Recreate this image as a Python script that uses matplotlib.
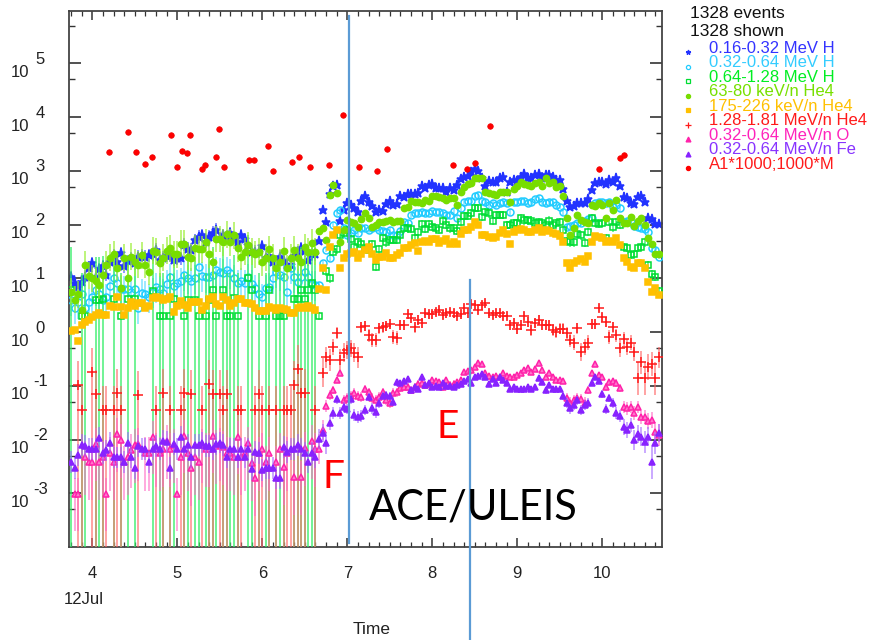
import numpy as np
import matplotlib
matplotlib.use("Agg")
import matplotlib.pyplot as plt
from matplotlib.lines import Line2D
from matplotlib.ticker import FixedLocator, NullFormatter, MultipleLocator

nan = float("nan")

# ---------------------------------------------------------------- data
# hourly averages, hours counted from 2012-07-04 00:00 UT
HOURS = np.arange(-6, 161)
ONSET_HOUR = 64          # particle event onset (pre-event points are noisy)

# log10 of intensities
H_016_032_LOG = [
    1.02, 0.91, 0.84, 0.93, 1.03, 1.19, 1.28, 1.03, 1.17, 1.22,
    1.06, 1.31, 1.42, 1.31, 1.47, 1.22, 1.32, 1.36, 1.28, 1.40,
    1.42, 1.40, 1.43, 1.45, 1.53, 1.34, 1.38, 1.42, 1.43, 1.34,
    1.37, 1.37, 1.62, 1.55, 1.53, 1.71, 1.77, 1.80, 1.68, 1.77,
    1.85, 1.90, 1.75, 1.80, 1.77, 1.84, 1.75, 1.67, 1.80, 1.73,
    1.62, 1.49, 1.49, 1.49, 1.60, 1.38, 1.41, 1.30, 1.30, 1.40,
    1.32, 1.25, 1.25, 1.41, 1.45, 1.56, 1.51, 1.34, 1.45, 1.45,
    1.69, 2.27, 2.05, 2.57, 2.72, 2.73, 2.07, 2.27, 2.40, 2.36,
    2.31, 2.23, 2.44, 2.53, 2.42, 2.34, 2.23, 2.27, 2.25, 2.38,
    2.44, 2.36, 2.38, 2.53, 2.51, 2.57, 2.57, 2.57, 2.59, 2.72,
    2.68, 2.73, 2.75, 2.68, 2.68, 2.68, 2.60, 2.68, 2.64, 2.73,
    2.85, 2.88, 2.90, 2.98, 3.03, 3.00, 2.87, 2.72, 2.81, 2.79,
    2.79, 2.87, 2.88, 2.60, 2.80, 2.83, 2.81, 2.88, 2.94, 2.87,
    2.87, 2.92, 2.94, 2.87, 2.92, 2.92, 2.88, 2.83, 2.83, 2.66,
    2.44, 2.33, 2.34, 2.40, 2.40, 2.40, 2.47, 2.64, 2.77, 2.79,
    2.79, 2.75, 2.83, 2.79, 2.87, 2.72, 2.51, 2.49, 2.40, 2.38,
    2.51, 2.53, 2.42, 2.12, 2.10, 2.01, 2.01]

H_032_064_LOG = [
    0.60, 0.45, 0.55, 0.70, 0.45, 0.55, 0.65, 0.78, 0.70, 0.60,
    0.65, 0.85, 1.00, 0.91, 0.80, 0.80, 0.80, 0.75, 0.80, 0.45,
    0.73, 0.70, 0.65, 0.75, 0.84, 0.80, 0.73, 0.90, 1.02, 0.85,
    0.91, 0.95, 1.06, 1.00, 0.95, 1.00, 1.21, 1.05, 1.02, 1.02,
    1.06, 1.15, 1.12, 1.10, 1.15, 1.10, 1.00, 0.91, 0.95, 0.91,
    1.02, 0.90, 0.82, 0.71, 0.65, 0.82, 0.84, 1.00, 1.12, 1.06,
    1.02, 0.74, 1.19, 1.02, 0.93, 1.02, 1.12, 1.02, 0.89, 0.88,
    0.87, 1.28, 1.53, 1.38, 2.00, 2.21, 2.27, 1.93, 1.80, 1.84,
    1.90, 1.84, 1.93, 1.93, 1.90, 1.93, 1.95, 1.90, 1.88, 1.86,
    1.90, 1.80, 1.80, 1.88, 2.05, 2.03, 2.18, 2.21, 2.21, 2.23,
    2.21, 2.21, 2.25, 2.23, 2.23, 2.21, 2.18, 2.18, 2.25, 2.12,
    2.31, 2.42, 2.44, 2.44, 2.53, 2.55, 2.44, 2.42, 2.36, 2.40,
    2.36, 2.40, 2.42, 2.40, 2.23, 2.42, 2.42, 2.44, 2.44, 2.40,
    2.42, 2.47, 2.49, 2.42, 2.40, 2.42, 2.42, 2.36, 2.33, 2.23,
    1.95, 1.97, 1.99, 2.03, 2.03, 2.07, 2.10, 2.12, 2.40, 2.42,
    2.42, 2.40, 2.42, 2.33, 2.36, 2.31, 2.05, 2.07, 2.05, 1.97,
    1.95, 1.93, 1.92, 1.86, 1.56, 1.53, 1.40]

H_064_128_LOG = [
    0.78, nan, nan, 0.30, 0.30, nan, nan, 0.60, 0.60, 0.61,
    nan, nan, 0.61, nan, 0.30, nan, 0.61, nan, 0.61, nan,
    nan, nan, nan, 0.76, nan, 0.30, 0.30, nan, 0.30, 0.61,
    nan, nan, 0.30, 0.60, nan, 0.60, 0.30, nan, 0.30, 0.60,
    0.78, 0.30, nan, 0.78, 0.30, 0.30, 0.63, 0.30, nan, nan,
    1.00, 0.78, nan, 0.30, nan, 0.30, 0.78, nan, 0.30, 0.30,
    0.30, nan, nan, 0.61, 0.61, 0.78, 0.61, 0.78, 0.91, 0.78,
    0.30, nan, 1.13, 1.00, 1.49, 1.54, 1.80, 1.85, 1.90, 1.73,
    1.58, 1.67, 1.64, 1.56, 1.53, 1.64, 1.21, 1.54, 1.75, 1.67,
    1.71, 1.71, 1.71, 1.80, 1.93, 1.93, 1.92, 1.75, 1.86, 2.01,
    1.92, 2.01, 1.96, 1.93, 1.90, 2.07, 1.99, 1.93, 1.93, 1.88,
    2.05, 2.16, 2.16, 2.21, 2.31, 2.31, 2.14, 2.23, 2.21, 2.07,
    2.18, 2.18, 2.18, 1.99, 2.00, 2.03, 2.03, 2.12, 2.08, 2.08,
    2.07, 2.03, 2.05, 2.03, 1.99, 2.07, 1.99, 2.03, 2.05, 1.90,
    1.69, 1.67, 1.67, 1.82, 1.80, 1.66, 1.86, 2.12, 2.03, 2.01,
    2.03, 1.75, 2.05, 1.95, 2.05, 1.99, 1.58, 1.56, 1.43, 1.45,
    1.56, 1.58, 1.67, 1.25, 1.08, 1.02, 0.76]

HE4_063_080_LOG = [
    0.75, 0.60, 0.70, 0.41, 1.25, 1.05, 1.00, 0.95, 0.87, 1.06,
    1.25, 1.38, 1.45, 1.19, 0.82, 1.38, 1.00, 1.40, 1.30, 1.25,
    1.43, 1.25, 1.12, 1.51, 1.49, 1.28, 1.38, 1.51, 1.56, 1.45,
    1.45, 1.64, 1.64, 1.40, 1.38, 1.56, 1.54, 1.54, 1.67, 1.45,
    1.30, 1.73, 1.73, 1.67, 1.82, 1.67, 1.80, 1.56, 1.40, 1.49,
    1.62, 1.49, 1.45, 1.49, 1.30, 1.38, 1.54, 1.38, 1.19, 1.30,
    1.51, 1.19, 1.38, 1.53, 1.38, 1.30, 1.58, 1.49, 1.66, 1.49,
    1.88, 1.93, 1.71, 2.55, 2.73, 2.59, 1.67, 1.90, 2.08, 2.05,
    2.03, 1.95, 2.10, 2.21, 2.12, 1.95, 1.99, 2.05, 2.05, 2.07,
    2.08, 2.05, 2.07, 2.07, 2.31, 2.33, 2.44, 2.42, 2.42, 2.40,
    2.46, 2.44, 2.53, 2.53, 2.51, 2.49, 2.46, 2.49, 2.49, 2.36,
    2.60, 2.70, 2.75, 2.77, 2.87, 2.87, 2.87, 2.60, 2.59, 2.57,
    2.55, 2.60, 2.60, 2.60, 2.42, 2.66, 2.72, 2.79, 2.75, 2.73,
    2.72, 2.77, 2.79, 2.72, 2.87, 2.77, 2.79, 2.70, 2.72, 2.53,
    2.12, 1.80, 1.93, 2.18, 2.08, 2.05, 2.03, 2.36, 2.34, 2.40,
    2.36, 2.12, 2.40, 2.27, 2.46, 2.12, 2.03, 2.03, 2.14, 1.97,
    2.07, 2.12, 1.99, 1.75, 1.64, 1.45, 1.45]

HE4_175_226_LOG = [
    0.02, 0.04, -0.17, 0.13, 0.19, 0.22, 0.28, 0.32, 0.35, 0.32,
    0.32, 0.48, 0.47, 0.65, 0.47, 0.32, 0.45, 0.56, 0.48, 0.54,
    0.54, 0.45, 0.48, 0.63, 0.65, 0.63, 0.60, 0.61, 0.65, 0.37,
    0.48, 0.58, 0.50, 0.45, 0.56, 0.56, 0.56, 0.41, 0.48, 0.61,
    0.65, 0.52, 0.48, 0.65, 0.60, 0.48, 0.54, 0.61, 0.61, 0.54,
    0.54, 0.52, 0.45, 0.39, 0.39, 0.39, 0.47, 0.45, 0.41, 0.45,
    0.43, 0.41, 0.35, 0.35, 0.45, 0.47, 0.45, 0.48, 0.45, 0.41,
    0.80, 1.19, 0.78, 1.58, 1.80, 1.90, 1.19, 1.38, 1.45, 1.47,
    1.49, 1.38, 1.45, 1.53, 1.58, 1.45, 1.34, 1.40, 1.40, 1.47,
    1.38, 1.38, 1.43, 1.47, 1.56, 1.56, 1.62, 1.66, 1.51, 1.67,
    1.69, 1.67, 1.73, 1.73, 1.66, 1.69, 1.73, 1.64, 1.67, 1.64,
    1.82, 1.90, 1.90, 1.95, 2.05, 1.99, 1.80, 1.80, 1.77, 1.75,
    1.77, 1.84, 1.90, 1.82, 1.64, 1.86, 1.90, 1.92, 1.90, 1.86,
    1.86, 1.90, 1.93, 1.86, 1.90, 1.88, 1.84, 1.82, 1.79, 1.67,
    1.28, 1.19, 1.28, 1.32, 1.36, 1.30, 1.41, 1.67, 1.79, 1.77,
    1.75, 1.67, 1.69, 1.67, 1.75, 1.62, 1.38, 1.30, 1.21, 1.19,
    1.28, 1.28, 1.19, 0.93, 0.74, 0.82, 0.69]

HE4_128_181_LOG = [
    nan, nan, -0.99, -1.45, nan, nan, -0.74, -1.15, nan, -1.45,
    -1.45, nan, -1.45, -1.13, -1.45, nan, nan, nan, nan, -1.17,
    nan, nan, nan, nan, -1.45, nan, -1.13, nan, -1.45, nan,
    nan, -1.45, -1.13, nan, -1.15, nan, nan, -1.45, nan, -0.97,
    -1.15, nan, -1.15, -1.45, -1.15, nan, nan, -1.45, -1.45, nan,
    nan, nan, -1.45, -1.15, -1.45, nan, -1.45, nan, -1.45, nan,
    -1.45, -1.45, -1.45, -0.99, -0.69, -1.13, -1.13, nan, nan, -1.45,
    nan, -0.76, -0.47, -0.52, -0.28, -0.02, -0.52, -0.39, -0.33, -0.30,
    -0.39, -0.47, 0.09, 0.11, -0.06, -0.15, -0.15, 0.07, 0.09, 0.11,
    0.15, -0.09, -0.11, 0.13, 0.13, 0.33, 0.26, 0.09, 0.22, 0.17,
    0.35, 0.33, 0.33, 0.37, 0.41, 0.32, 0.35, 0.37, 0.35, 0.30,
    0.33, 0.45, 0.35, 0.52, 0.50, 0.41, 0.50, 0.54, 0.35, 0.32,
    0.35, 0.35, 0.30, 0.30, 0.13, 0.17, 0.06, 0.13, 0.30, 0.19,
    0.04, 0.17, 0.22, 0.13, 0.13, 0.13, 0.04, 0.00, 0.06, 0.06,
    -0.02, -0.15, -0.20, 0.07, -0.37, -0.28, -0.20, 0.15, 0.15, 0.45,
    0.28, 0.19, -0.09, 0.09, -0.06, -0.30, -0.13, -0.28, -0.20, -0.37,
    -0.86, -0.56, -0.86, -0.65, -0.60, -0.86, -0.47]

O_032_064_LOG = [
    nan, -3.01, -3.01, nan, -2.33, -2.42, -2.42, -2.08, -2.42, -2.33,
    -3.01, -2.25, -2.42, -1.90, -2.01, -2.42, -2.33, -2.20, -2.10, -2.08,
    nan, -2.25, -2.25, -1.95, -2.18, -2.25, -2.18, -2.03, -2.18, -2.10,
    -3.01, -2.33, -1.93, -2.25, -2.53, -2.33, -2.42, -2.10, -2.18, -2.18,
    -1.93, -2.12, -2.08, -2.14, -2.25, -2.25, -2.33, -1.95, -2.33, -2.25,
    -2.06, -2.44, -2.72, -2.25, -2.18, -2.42, -2.25, nan, -2.42, -2.18,
    -2.51, -2.25, nan, -2.70, nan, -2.70, -2.16, nan, -2.03, -2.18,
    -2.18, -1.82, -1.38, -1.17, -1.08, -0.89, -0.76, -1.27, -1.23, -1.19,
    -1.13, -1.19, -1.21, -1.06, -1.12, -1.23, -1.27, -1.21, -1.12, -1.27,
    -1.32, -1.13, -1.12, -1.05, -1.02, -1.02, -1.08, -1.02, -0.97, -0.95,
    -0.99, -0.97, -0.89, -0.91, -0.93, -1.02, -0.89, -0.99, -0.97, -0.93,
    -0.90, -0.74, -0.73, -0.71, -0.65, -0.58, -0.60, -0.76, -0.82, -0.84,
    -0.82, -0.84, -0.76, -0.82, -0.84, -0.84, -0.80, -0.76, -0.71, -0.67,
    -0.74, -0.69, -0.58, -0.71, -0.84, -0.76, -0.84, -0.89, -0.89, -0.91,
    -1.23, -1.32, -1.27, -1.23, -1.25, -1.32, -1.08, -0.76, -0.60, -0.80,
    -0.84, -1.02, -0.93, -0.91, -0.95, -1.04, -1.40, -1.42, -1.40, -1.51,
    -1.40, -1.58, -1.58, -1.66, -1.64, -1.86, -1.92]

FE_032_064_LOG = [
    -2.42, -2.53, -2.29, -2.10, -2.12, -2.18, -2.18, -2.18, -1.97, -2.25,
    -2.20, -2.06, -2.33, -2.33, -2.33, -2.42, -2.06, -2.33, -2.53, -2.12,
    -2.18, -2.18, -2.42, -2.18, -2.12, -2.18, -2.03, -2.05, -2.53, -2.08,
    -2.18, -1.95, -2.18, -2.10, -2.33, -2.10, -2.10, -2.06, -2.12, -2.12,
    -2.18, -2.08, -2.06, -2.10, -2.33, -2.18, -2.18, -2.33, -2.18, -2.33,
    -2.18, -2.55, -2.23, -2.25, -2.57, -2.53, -2.53, -2.53, -2.72, -2.72,
    -2.14, -2.23, -2.18, -2.18, -2.10, -2.18, -2.25, -2.42, -2.25, -2.33,
    -1.99, -1.88, -2.06, -1.69, -1.51, -1.25, -1.51, -1.40, -1.43, -1.25,
    -1.54, -1.58, -1.56, -1.45, -1.21, -1.42, -1.49, -1.32, -1.19, -1.17,
    -1.19, -1.30, -0.93, -0.95, -0.91, -0.87, -1.08, -1.02, -1.06, -0.84,
    -0.99, -0.95, -1.02, -1.00, -1.02, -0.95, -1.00, -1.00, -1.02, -0.99,
    -0.97, -0.92, -0.87, -0.95, -0.84, -0.82, -0.78, -0.84, -0.97, -0.87,
    -0.95, -0.84, -0.89, -0.95, -1.06, -1.02, -1.06, -1.06, -1.06, -1.02,
    -1.06, -1.02, -0.86, -0.93, -1.08, -0.99, -1.06, -1.06, -1.06, -1.19,
    -1.32, -1.42, -1.36, -1.27, -1.45, -1.36, -1.32, -0.95, -0.84, -0.91,
    -1.15, -1.43, -1.23, -1.32, -1.51, -1.56, -1.77, -1.82, -1.73, -2.01,
    -1.90, -1.95, -2.05, -1.95, -2.42, -2.06, -1.88]

# A1*1000;1000*M points (day of July 2012, log10 value)
A1_DAY = [4.196, 4.420, 4.514, 4.620, 4.702, 4.926, 4.996, 5.055, 5.114,
          5.149, 5.291, 5.326, 5.455, 5.491, 5.549, 5.844, 5.902, 6.067,
          6.126, 6.349, 6.432, 6.561, 6.785, 6.949, 7.138, 7.349, 7.467,
          8.243, 8.408, 8.502, 8.679, 9.961, 10.208, 10.255]
A1_LOG = [3.35, 3.72, 3.35, 3.13, 3.26, 3.67, 3.07, 3.37, 3.33, 3.67, 3.03,
          3.11, 3.26, 3.78, 3.07, 3.20, 3.20, 3.46, 3.00, 3.16, 3.26, 3.07,
          3.11, 4.04, 3.07, 3.00, 3.40, 3.11, 3.03, 3.14, 3.83, 3.03, 3.24,
          3.29]

EVENT_LINES = [7.02, 8.44]          # days of the two vertical markers
DAY_TICKS = [4, 5, 6, 7, 8, 9, 10]
Y_EXPONENTS = [-3, -2, -1, 0, 1, 2, 3, 4, 5]

for arr in (H_016_032_LOG, H_032_064_LOG, H_064_128_LOG, HE4_063_080_LOG,
            HE4_175_226_LOG, HE4_128_181_LOG, O_032_064_LOG, FE_032_064_LOG):
    assert len(arr) == len(HOURS), len(arr)

DAYS = 4 + HOURS / 24.0

# ---------------------------------------------------------------- style
SERIES = [
    dict(label="0.16-0.32 MeV H", data=H_016_032_LOG, color="#2233ff",
         ecolor="#2233ff", ealpha=0.55, marker="*", ms=6.5, mfc="#2233ff",
         pre=(0.12, 0.12), post=0.04, ref=None, lmk="*", lms=3.5),
    dict(label="0.32-0.64 MeV H", data=H_032_064_LOG, color="#22ccff",
         ecolor="#66ddff", ealpha=0.7, marker="o", ms=5, mfc="none",
         pre=(0.3, 0.25), post=0.05, ref=None, lmk="o", lms=3),
    dict(label="0.64-1.28 MeV H", data=H_064_128_LOG, color="#00dd33",
         ecolor="#33ee66", ealpha=0.75, marker="s", ms=4.5, mfc="none",
         pre=(None, 0.8), post=0.08, ref=None, lmk="s", lms=3),
    dict(label="63-80 keV/n He4", data=HE4_063_080_LOG, color="#77dd00",
         ecolor="#99ee33", ealpha=0.7, marker="o", ms=4.5, mfc="#77dd00",
         pre=(0.25, 0.25), post=0.05, ref=None, lmk="o", lms=3),
    dict(label="175-226 keV/n He4", data=HE4_175_226_LOG, color="#ffc000",
         ecolor="#ffcc33", ealpha=0.6, marker="s", ms=5, mfc="#ffc000",
         pre=(0.04, 0.04), post=0.03, ref=None, lmk="s", lms=3.5),
    dict(label="1.28-1.81 MeV/n He4", data=HE4_128_181_LOG, color="#ff1a1a",
         ecolor="#ff6666", ealpha=0.65, marker="+", ms=7, mfc="#ff1a1a",
         pre=(None, 0.45), post=0.08, ref=0.3, lmk="+", lms=4),
    dict(label="0.32-0.64 MeV/n O", data=O_032_064_LOG, color="#ff22aa",
         ecolor="#ff66c4", ealpha=0.6, marker="^", ms=4.5, mfc="#ff77cc",
         pre=(0.7, 0.3), post=0.05, ref=-0.7, lmk="^", lms=3.5),
    dict(label="0.32-0.64 MeV/n Fe", data=FE_032_064_LOG, color="#8822ff",
         ecolor="#a066ff", ealpha=0.6, marker="^", ms=3.8, mfc="#8822ff",
         pre=(0.2, 0.2), post=0.06, ref=-1.0, lmk="^", lms=3.5),
]

plt.rcParams["font.family"] = ["Liberation Sans", "DejaVu Sans"]

W, H = 890, 640
fig = plt.figure(figsize=(W / 100, H / 100), dpi=100)
ax_l, ax_r, ax_t, ax_b = 68.7, 662.3, 10.7, 546.7
ax = fig.add_axes([ax_l / W, 1 - ax_b / H, (ax_r - ax_l) / W, (ax_b - ax_t) / H])
ax.set_yscale("log")
ax.set_xlim(3.7224, 10.706)
ax.set_ylim(10 ** -3.994, 10 ** 5.978)

pre_mask = HOURS < ONSET_HOUR
z = 2
for s in SERIES:
    v = np.array(s["data"], dtype=float)
    ok = ~np.isnan(v)
    if s["ref"] is None:
        dpost = np.full_like(v, s["post"])
    else:
        dpost = np.clip(s["post"] * 10 ** (-(v - s["ref"]) / 2.0), s["post"], 0.4)
    plo, phi = s["pre"]
    lo = np.where(pre_mask, -12.0 if plo is None else v - plo, v - dpost)
    hi = np.where(pre_mask, v + phi, v + dpost)
    ax.vlines(DAYS[ok], 10 ** lo[ok], 10 ** hi[ok], colors=s["ecolor"],
              alpha=s["ealpha"], lw=1.3, zorder=z)
    ax.plot(DAYS[ok], 10 ** v[ok], ls="none", marker=s["marker"], ms=s["ms"],
            mfc=s["mfc"], mec=s["color"], mew=1.1, zorder=z + 0.5)
    z += 1

ax.plot(A1_DAY, 10 ** np.array(A1_LOG), ls="none", marker="o", ms=4,
        mfc="#ff0000", mec="#ee0000", mew=0.5, zorder=z + 1)

# event marker lines
ev_color = "#5b9bd5"
ax.plot([EVENT_LINES[0]] * 2, [0.007, 0.99], color=ev_color, lw=1.6,
        transform=ax.get_xaxis_transform(), clip_on=False, zorder=20)
ax.plot([EVENT_LINES[1]] * 2, [-0.18, 0.4976], color=ev_color, lw=1.6,
        transform=ax.get_xaxis_transform(), clip_on=False, zorder=20)

# axes styling
for sp in ax.spines.values():
    sp.set_color("#444444")
    sp.set_linewidth(1.3)
ax.yaxis.set_major_locator(FixedLocator([10.0 ** k for k in range(-4, 7)]))
ax.yaxis.set_minor_locator(FixedLocator([5 * 10.0 ** k for k in range(-4, 6)]))
ax.yaxis.set_major_formatter(NullFormatter())
ax.yaxis.set_minor_formatter(NullFormatter())
ax.tick_params(axis="y", which="major", direction="in", length=8.6, width=1.2,
               left=True, right=True, color="#333333")
ax.tick_params(axis="y", which="minor", direction="in", length=4.5, width=1.0,
               left=True, right=True, color="#333333")
ax.set_xticks(DAY_TICKS)
ax.set_xticklabels([str(d) for d in DAY_TICKS])
ax.xaxis.set_minor_locator(MultipleLocator(0.125))
ax.tick_params(axis="x", which="major", direction="in", length=6.5, width=1.1,
               top=True, bottom=True, labelsize=12, pad=14, color="#333333",
               labelcolor="#222222")
ax.tick_params(axis="x", which="minor", direction="in", length=3.6, width=0.9,
               top=True, bottom=True, color="#333333")

# y tick labels "10" with raised exponent
for k in Y_EXPONENTS:
    ax.annotate("10", xy=(11, 10.0 ** k), xycoords=("figure pixels", "data"),
                xytext=(0, -13.5 * 0.72), textcoords="offset points",
                ha="left", va="baseline", fontsize=12, color="#222222",
                annotation_clip=False)
    ax.annotate(str(k), xy=(33 if k < 0 else 35.5, 10.0 ** k),
                xycoords=("figure pixels", "data"),
                xytext=(0, -0.5 * 0.72), textcoords="offset points",
                ha="left", va="baseline", fontsize=12, color="#222222",
                annotation_clip=False)

fig.text(84 / W, 1 - 600 / H, "12Jul", ha="center", va="center",
         fontsize=12, color="#222222")
fig.text(372 / W, 1 - 629 / H, "Time", ha="center", va="center",
         fontsize=12.5, color="#222222")

# annotations
ann_font = ["Lato", "DejaVu Sans"]
fig.text(323 / W, 1 - 488 / H, "F", color="#ff0000", fontsize=28,
         family=ann_font, ha="left", va="baseline")
fig.text(436 / W, 1 - 438 / H, "E", color="#ff0000", fontsize=28,
         family=ann_font, ha="left", va="baseline")
fig.text(369 / W, 1 - 519 / H, "ACE/ULEIS", color="#000000", fontsize=30,
         family=ann_font, ha="left", va="baseline", zorder=30)

# legend (drawn like the original side panel)
fig.text(690 / W, 1 - 13.5 / H, "1328 events", fontsize=12.5, va="center",
         ha="left", color="#111111")
fig.text(690 / W, 1 - 31.5 / H, "1328 shown", fontsize=12.5, va="center",
         ha="left", color="#111111")
leg_items = [(s["label"], s["color"], s["lmk"], s["lms"],
              "none" if s["mfc"] == "none" else s["color"]) for s in SERIES]
leg_items.append(("A1*1000;1000*M", "#ff0000", "o", 3, "#ff0000"))
text_colors = ["#3333ff", "#33ccff", "#00ee22", "#77e000", "#ffc000",
               "#ff1a1a", "#ff22bb", "#8833ff", "#ff1a1a"]
for i, (lab, col, mk, lms, mfc) in enumerate(leg_items):
    y = 52.3 + i * 14.5
    fig.add_artist(Line2D([688 / W], [1 - y / H], marker=mk, ms=lms, mfc=mfc,
                          mec=col, mew=0.9, ls="none",
                          transform=fig.transFigure))
    fig.text(709 / W, 1 - (y - 4) / H, lab, color=text_colors[i], fontsize=12,
             va="center", ha="left")

fig.savefig("out.png", dpi=100)
